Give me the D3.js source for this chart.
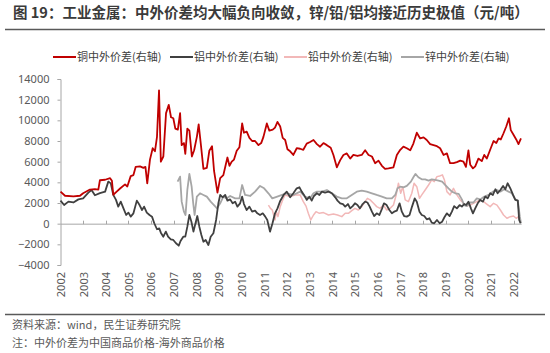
<!DOCTYPE html>
<html>
<head>
<meta charset="utf-8">
<script src="https://cdn.jsdelivr.net/npm/d3@7"></script>
<style>
  body { margin: 0; background: #fff; }
  svg { display: block; font-family: "Noto Sans CJK SC", "Noto Sans", sans-serif; }
</style>
</head>
<body>
<script>
// data: [decimal year, yuan/ton]
const copper = [
  [2002.0, 3100], [2002.2, 2700], [2002.57, 2650], [2002.86, 2700], [2003.0, 2950], [2003.3, 3300],
  [2003.52, 3350], [2003.67, 3300], [2003.74, 4200], [2003.97, 4250], [2004.19, 4400], [2004.27, 4150],
  [2004.33, 2800], [2004.48, 3100], [2004.63, 3400], [2004.85, 3800], [2004.95, 3600], [2005.1, 4600],
  [2005.22, 4700], [2005.32, 5500], [2005.51, 5550], [2005.66, 5400], [2005.75, 5500], [2005.83, 3900],
  [2005.95, 6200], [2006.07, 7300], [2006.17, 7000], [2006.26, 8400], [2006.35, 12900], [2006.43, 6000],
  [2006.54, 6500], [2006.66, 10700], [2006.78, 11500], [2006.88, 10300], [2006.98, 10200], [2007.07, 9200],
  [2007.18, 9100], [2007.28, 10700], [2007.35, 7600], [2007.45, 7800], [2007.51, 6750], [2007.6, 9200],
  [2007.69, 9000], [2007.8, 6500], [2007.9, 7100], [2008.02, 8400], [2008.1, 9600], [2008.2, 7600],
  [2008.31, 5300], [2008.46, 5400], [2008.57, 7050], [2008.69, 7500], [2008.78, 5100], [2008.93, 3000],
  [2009.05, 4400], [2009.19, 4700], [2009.28, 5550], [2009.37, 6400], [2009.46, 5600], [2009.56, 6000],
  [2009.66, 6200], [2009.78, 7050], [2009.9, 7400], [2010.02, 9700], [2010.1, 8800], [2010.22, 8900],
  [2010.34, 8300], [2010.46, 8000], [2010.59, 8000], [2010.74, 7600], [2010.86, 7800], [2010.96, 8400],
  [2011.11, 9700], [2011.22, 9000], [2011.37, 9100], [2011.47, 9300], [2011.58, 9850], [2011.7, 9400],
  [2011.81, 8300], [2011.92, 8100], [2012.02, 7200], [2012.14, 7000], [2012.28, 6650], [2012.43, 7300],
  [2012.58, 7250], [2012.72, 7150], [2012.87, 7750], [2013.02, 7900], [2013.17, 8100], [2013.32, 7700],
  [2013.46, 7450], [2013.61, 7800], [2013.76, 7600], [2013.93, 7350], [2014.05, 6650], [2014.2, 5450],
  [2014.35, 6150], [2014.49, 6650], [2014.64, 6800], [2014.79, 6300], [2014.93, 6650], [2015.11, 6550],
  [2015.3, 6650], [2015.45, 7100], [2015.6, 6650], [2015.75, 6500], [2015.89, 5850], [2016.04, 6100],
  [2016.19, 5600], [2016.33, 5300], [2016.48, 5350], [2016.7, 5450], [2016.85, 6650], [2017.0, 7150],
  [2017.14, 7450], [2017.29, 7300], [2017.44, 7100], [2017.58, 7750], [2017.73, 8800], [2017.88, 8250],
  [2018.03, 8350], [2018.17, 8100], [2018.32, 7700], [2018.47, 7600], [2018.62, 7500], [2018.76, 7300],
  [2018.91, 6650], [2019.06, 6800], [2019.2, 5850], [2019.35, 5850], [2019.5, 5950], [2019.65, 6100],
  [2019.79, 6000], [2019.9, 5500], [2020.01, 7100], [2020.09, 5700], [2020.21, 5350], [2020.31, 5550],
  [2020.45, 6300], [2020.6, 6050], [2020.71, 6650], [2020.82, 6300], [2020.97, 7150], [2021.12, 8000],
  [2021.24, 7800], [2021.34, 8250], [2021.44, 8150], [2021.56, 8750], [2021.68, 9400], [2021.8, 10200],
  [2021.88, 9050], [2022.0, 8600], [2022.12, 8150], [2022.22, 7700], [2022.33, 8250],
]

const aluminium = [
  [2002.0, 2230], [2002.16, 1810], [2002.35, 2130], [2002.57, 2050], [2002.79, 2350], [2003.0, 2450],
  [2003.23, 3000], [2003.37, 3260], [2003.52, 2750], [2003.74, 2950], [2003.97, 3100], [2004.11, 4070],
  [2004.22, 3900], [2004.33, 2780], [2004.45, 2300], [2004.55, 1650], [2004.66, 2130], [2004.78, 1480],
  [2004.9, 840], [2005.0, 1070], [2005.1, 680], [2005.22, 1000], [2005.37, 2230], [2005.49, 1800],
  [2005.6, 1320], [2005.69, 1650], [2005.81, 1070], [2005.93, 840], [2006.04, 680], [2006.14, 40],
  [2006.26, -540], [2006.36, -450], [2006.43, -870], [2006.54, -1260], [2006.65, -770], [2006.75, -1260],
  [2006.87, -1520], [2006.98, -1580], [2007.1, -1900], [2007.22, -2130], [2007.3, -1680], [2007.42, -1260],
  [2007.51, -1260], [2007.6, -290], [2007.69, 840], [2007.78, 190], [2007.87, -770], [2007.96, 40],
  [2008.04, 740], [2008.13, -290], [2008.22, -1100], [2008.31, -1750], [2008.41, -1580], [2008.53, -2070],
  [2008.63, -1260], [2008.75, -930], [2008.87, 360], [2008.97, 1970], [2009.05, 2780], [2009.16, 2550],
  [2009.27, 2780], [2009.37, 2230], [2009.49, 2350], [2009.6, 1970], [2009.71, 2130], [2009.81, 1650],
  [2009.93, 1970], [2010.02, 2620], [2010.1, 1900], [2010.22, 1320], [2010.34, 1650], [2010.46, 1160],
  [2010.59, 1260], [2010.69, 1000], [2010.81, 840], [2010.93, 1000], [2011.04, 680], [2011.13, 360],
  [2011.25, -770], [2011.36, 40], [2011.47, 1000], [2011.58, 1480], [2011.7, 2200], [2011.85, 2780],
  [2011.99, 3100], [2012.14, 2550], [2012.28, 2940], [2012.43, 3420], [2012.55, 3520], [2012.65, 3100],
  [2012.75, 2780], [2012.87, 2300], [2012.99, 2620], [2013.09, 2230], [2013.19, 2680], [2013.32, 2940],
  [2013.43, 2780], [2013.54, 3100], [2013.68, 3000], [2013.83, 3100], [2013.98, 2940], [2014.13, 2550],
  [2014.23, 2230], [2014.35, 1970], [2014.47, 1900], [2014.57, 1650], [2014.69, 1900], [2014.79, 1480],
  [2014.9, 1700], [2015.0, 1970], [2015.11, 1800], [2015.22, 1480], [2015.34, 1900], [2015.45, 2130],
  [2015.55, 2050], [2015.64, 1700], [2015.75, 1160], [2015.85, 740], [2015.96, 1000], [2016.08, 840],
  [2016.2, 1480], [2016.28, 1970], [2016.4, 1800], [2016.52, 1320], [2016.63, 1000], [2016.73, 1160],
  [2016.85, 1260], [2016.97, 1970], [2017.07, 1160], [2017.17, 740], [2017.29, 680], [2017.41, 840],
  [2017.52, 1650], [2017.64, 2450], [2017.73, 2130], [2017.85, 1160], [2017.95, 840], [2018.06, 740],
  [2018.17, 420], [2018.29, 520], [2018.39, 100], [2018.5, 40], [2018.62, 360], [2018.74, 40],
  [2018.85, 190], [2018.95, 620], [2019.06, 1000], [2019.18, 740], [2019.28, 1160], [2019.38, 1700],
  [2019.5, 1480], [2019.62, 1800], [2019.72, 1650], [2019.82, 1900], [2019.91, 1800], [2020.01, 2130],
  [2020.12, 1480], [2020.21, 1000], [2020.31, 1480], [2020.42, 1970], [2020.53, 2300], [2020.65, 2130],
  [2020.75, 2620], [2020.86, 2450], [2020.97, 2940], [2021.09, 2780], [2021.2, 3330], [2021.3, 2940],
  [2021.42, 3260], [2021.54, 3650], [2021.64, 3330], [2021.74, 3910], [2021.86, 3420], [2021.98, 2780],
  [2022.08, 2300], [2022.19, 2230], [2022.25, 360], [2022.31, 40],
]

const lead = [
  [2011.18, 1800], [2011.27, 1480], [2011.35, 1320], [2011.47, 360], [2011.53, 1160], [2011.6, 680],
  [2011.7, 1650], [2011.84, 2450], [2011.92, 2780], [2012.14, 2620], [2012.36, 2780], [2012.58, 2780],
  [2012.72, 2130], [2012.84, 1700], [2012.94, 1000], [2013.05, 360], [2013.17, 840], [2013.28, 1160],
  [2013.43, 1000], [2013.61, 1070], [2013.83, 840], [2014.05, 940], [2014.23, 840], [2014.42, 680],
  [2014.57, 1000], [2014.71, 1000], [2014.86, 1260], [2015.0, 1480], [2015.15, 1320], [2015.3, 1650],
  [2015.45, 2130], [2015.55, 2450], [2015.67, 2300], [2015.82, 1970], [2015.96, 1650], [2016.11, 1480],
  [2016.26, 1800], [2016.4, 1320], [2016.55, 1480], [2016.7, 1800], [2016.82, 2780], [2016.92, 3910],
  [2017.02, 2940], [2017.11, 3580], [2017.22, 2300], [2017.36, 2130], [2017.51, 2940], [2017.61, 3910],
  [2017.73, 3580], [2017.85, 2450], [2017.95, 2780], [2018.1, 3260], [2018.25, 3740], [2018.39, 4230],
  [2018.5, 4070], [2018.62, 4550], [2018.74, 4620], [2018.86, 4720], [2018.95, 4230], [2019.06, 3100],
  [2019.2, 2780], [2019.35, 3420], [2019.5, 2780], [2019.65, 2300], [2019.79, 1970], [2019.94, 1700],
  [2020.09, 1800], [2020.23, 1970], [2020.38, 2130], [2020.53, 2300], [2020.68, 2130], [2020.82, 1900],
  [2020.97, 1650], [2021.12, 1970], [2021.27, 1800], [2021.42, 1320], [2021.56, 840], [2021.71, 520],
  [2021.86, 680], [2022.0, 740], [2022.12, 520], [2022.22, 680], [2022.31, 190],
]

const zinc = [
  [2007.17, 4070], [2007.28, 4550], [2007.35, 2130], [2007.45, 1160], [2007.52, 840], [2007.6, 3260],
  [2007.69, 4810], [2007.79, 3580], [2007.86, 1970], [2007.92, 840], [2008.02, 2620], [2008.16, 2940],
  [2008.31, 2780], [2008.46, 2620], [2008.63, 2130], [2008.84, 1650], [2008.91, 1480], [2009.05, 1970],
  [2009.19, 2620], [2009.34, 2450], [2009.49, 2680], [2009.71, 2450], [2009.9, 2450], [2010.02, 3740],
  [2010.15, 2780], [2010.37, 2680], [2010.59, 3100], [2010.81, 3650], [2010.99, 3420], [2011.18, 2940],
  [2011.35, 2450], [2011.57, 2620], [2011.78, 2780], [2011.99, 2940], [2012.28, 2780], [2012.58, 3100],
  [2012.79, 2620], [2013.02, 2450], [2013.17, 2940], [2013.32, 3100], [2013.54, 3100], [2013.76, 3260],
  [2013.98, 2940], [2014.2, 2620], [2014.42, 2450], [2014.64, 2450], [2014.86, 2780], [2015.08, 3100],
  [2015.3, 3200], [2015.52, 3100], [2015.75, 2940], [2015.96, 2780], [2016.19, 2620], [2016.4, 2450],
  [2016.63, 2450], [2016.78, 2780], [2016.88, 3420], [2017.0, 3580], [2017.14, 3520], [2017.29, 3650],
  [2017.47, 4070], [2017.58, 4490], [2017.67, 4810], [2017.8, 4490], [2017.95, 4290], [2018.1, 4290],
  [2018.25, 4170], [2018.39, 4290], [2018.54, 4230], [2018.69, 4170], [2018.85, 4070], [2018.99, 3740],
  [2019.13, 3420], [2019.28, 3100], [2019.43, 2940], [2019.58, 2880], [2019.72, 2350], [2019.82, 1800],
  [2019.94, 1700], [2020.09, 2050], [2020.23, 2050], [2020.38, 2450], [2020.53, 2350], [2020.71, 2620],
  [2020.9, 2780], [2021.09, 3100], [2021.27, 3260], [2021.42, 3100], [2021.59, 3330], [2021.78, 3100],
  [2021.93, 2940], [2022.08, 2350], [2022.19, 2230], [2022.28, 680], [2022.33, 40],
]

const years = d3.range(2002, 2023)
const yTicks = d3.range(-4000, 14001, 2000)

const series = [
  { name: "铜中外价差(右轴)", data: copper, color: "#c00000", width: 1.8 },
  { name: "铝中外价差(右轴)", data: aluminium, color: "#404040", width: 1.8 },
  { name: "铅中外价差(右轴)", data: lead, color: "#f2b8b8", width: 1.5 },
  { name: "锌中外价差(右轴)", data: zinc, color: "#a6a6a6", width: 1.8 },
]

const dimensions = { width: 550, height: 353 }

const wrapper = d3.select("body")
  .append("svg")
    .attr("width", dimensions.width)
    .attr("height", dimensions.height)

// title + rules
wrapper.append("text")
    .attr("x", 13)
    .attr("y", 18)
    .attr("fill", "#3a3a3a")
    .style("font-size", "14.5px")
    .style("font-weight", "bold")
    .text("图 19：工业金属：中外价差均大幅负向收敛，锌/铅/铝均接近历史极值（元/吨）")

wrapper.append("line")
    .attr("x1", 5).attr("x2", 545)
    .attr("y1", 29.5).attr("y2", 29.5)
    .attr("stroke", "#595959")
    .attr("stroke-width", 1.5)

wrapper.append("line")
    .attr("x1", 5).attr("x2", 545)
    .attr("y1", 314.5).attr("y2", 314.5)
    .attr("stroke", "#595959")
    .attr("stroke-width", 1.5)

wrapper.append("text")
    .attr("x", 12).attr("y", 329)
    .attr("fill", "#595959")
    .style("font-size", "11px")
    .text("资料来源：wind，民生证券研究院")

wrapper.append("text")
    .attr("x", 12).attr("y", 347)
    .attr("fill", "#595959")
    .style("font-size", "11px")
    .text("注：中外价差为中国商品价格-海外商品价格")

// scales
const xScale = d3.scaleLinear()
  .domain([2002, 2022])
  .range([60.5, 513.5])

const yScale = d3.scaleLinear()
  .domain([-4000, 14000])
  .range([265, 79])

// y axis
const yAxis = wrapper.append("g")
    .attr("transform", "translate(60.5,0)")
    .call(d3.axisLeft(yScale).tickValues(yTicks).tickSize(3).tickSizeOuter(3).tickFormat(d3.format("d")))
yAxis.select(".domain").attr("stroke", "#a6a6a6")
yAxis.selectAll(".tick line").attr("stroke", "#a6a6a6")
yAxis.selectAll(".tick text")
    .attr("x", -11)
    .attr("fill", "#595959")
    .style("font-family", "'Noto Sans', sans-serif")
    .style("font-size", "11px")

// x axis at zero
const xEnd = xScale(2022.36)
const xAxis = wrapper.append("g")
xAxis.append("line")
    .attr("x1", xScale(2002)).attr("x2", xEnd)
    .attr("y1", yScale(0) + 0.5).attr("y2", yScale(0) + 0.5)
    .attr("stroke", "#a6a6a6")
xAxis.selectAll(".xtick")
  .data(years.slice(1))
  .join("line")
    .attr("x1", d => Math.round(xScale(d)) + 0.5)
    .attr("x2", d => Math.round(xScale(d)) + 0.5)
    .attr("y1", yScale(0) + 0.5)
    .attr("y2", yScale(0) - 3)
    .attr("stroke", "#a6a6a6")

wrapper.append("g")
  .selectAll("text")
  .data(years)
  .join("text")
    .attr("transform", d => `translate(${xScale(d) + 0.5},272) rotate(-90)`)
    .attr("dy", "0.35em")
    .attr("text-anchor", "end")
    .attr("fill", "#595959")
    .style("font-family", "'Noto Sans', sans-serif")
    .style("font-size", "11px")
    .text(d => d)

// lines (draw light ones first so dark ones sit on top)
const lineGenerator = d3.line()
  .x(d => xScale(d[0]))
  .y(d => yScale(d[1]))

const drawOrder = [series[2], series[3], series[1], series[0]]
wrapper.append("g")
  .selectAll("path")
  .data(drawOrder)
  .join("path")
    .attr("d", d => lineGenerator(d.data))
    .attr("fill", "none")
    .attr("stroke", d => d.color)
    .attr("stroke-width", d => d.width)
    .attr("stroke-linejoin", "round")

// legend
const legendX = [53, 170, 284, 401]
const legend = wrapper.append("g")
  .selectAll("g")
  .data(series)
  .join("g")
    .attr("transform", (d, i) => `translate(${legendX[i]},57)`)
legend.append("line")
    .attr("x1", 0).attr("x2", 23)
    .attr("stroke", d => d.color)
    .attr("stroke-width", 2)
legend.append("text")
    .attr("x", 24)
    .attr("dy", "0.35em")
    .attr("fill", "#404040")
    .style("font-size", "11px")
    .text(d => d.name)
</script>
</body>
</html>
